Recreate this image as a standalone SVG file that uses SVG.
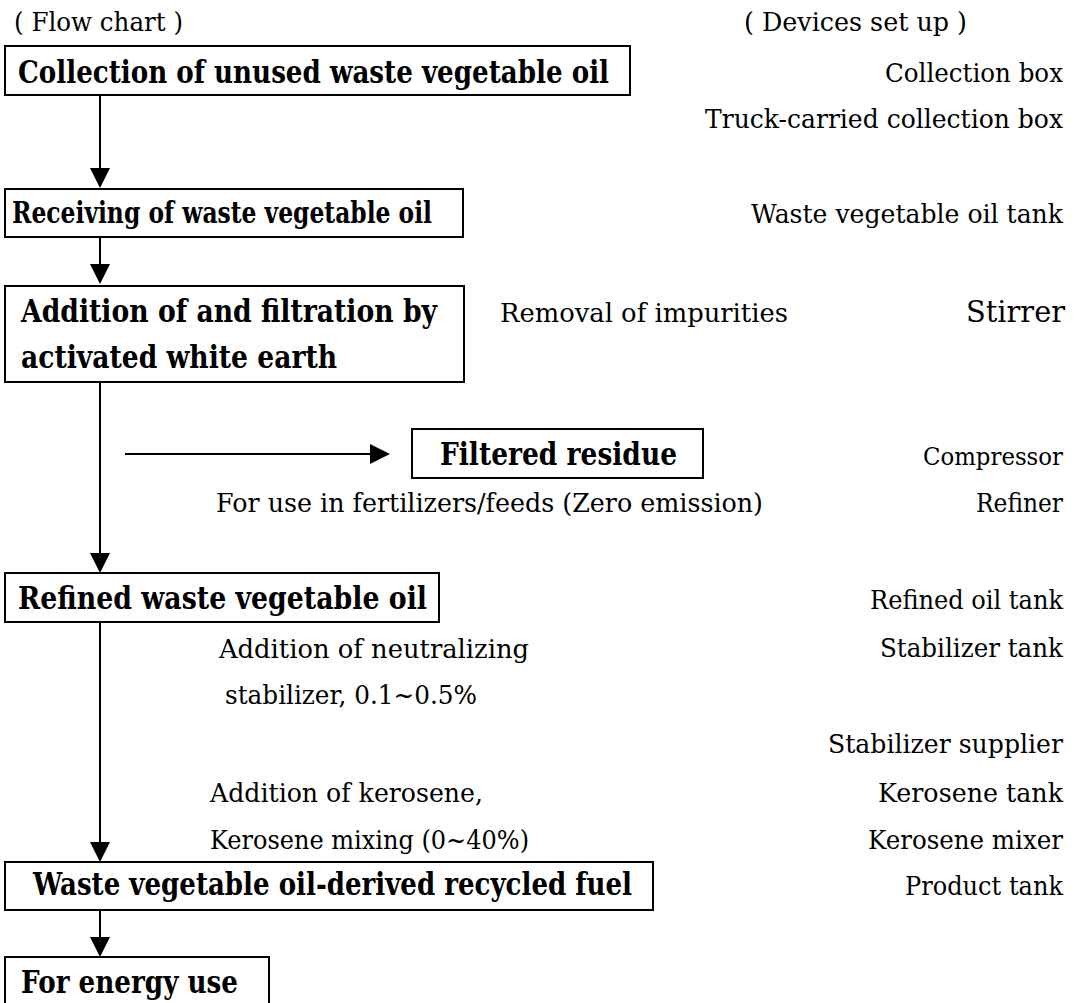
<svg xmlns="http://www.w3.org/2000/svg" width="1079" height="1003" viewBox="0 0 1079 1003">
<style>
.box{fill:#fff;stroke:#000;stroke-width:2}
.b{font-family:"DejaVu Serif","Liberation Serif",serif;font-weight:bold;font-size:31px;fill:#000}
.r{font-family:"DejaVu Serif","Liberation Serif",serif;font-size:26px;fill:#000}
.ln{stroke:#000;stroke-width:2;fill:none}
</style>
<defs>
<marker id="ah" markerWidth="20" markerHeight="20" refX="10" refY="10" orient="auto" markerUnits="userSpaceOnUse">
<path d="M0,0 L20,10 L0,20 z" fill="#000"/>
</marker>
</defs>
<rect width="1079" height="1003" fill="#fff"/>
<text class="r" x="14" y="31" textLength="169" lengthAdjust="spacingAndGlyphs">( Flow chart )</text>
<text class="r" x="744" y="31" textLength="223" lengthAdjust="spacingAndGlyphs">( Devices set up )</text>
<g id="connectors">
<line class="ln" x1="100" y1="96" x2="100" y2="178" marker-end="url(#ah)"/>
<line class="ln" x1="100" y1="237" x2="100" y2="274" marker-end="url(#ah)"/>
<line class="ln" x1="100" y1="382" x2="100" y2="563" marker-end="url(#ah)"/>
<line class="ln" x1="125" y1="454" x2="380" y2="454" marker-end="url(#ah)"/>
<line class="ln" x1="100" y1="622" x2="100" y2="852" marker-end="url(#ah)"/>
<line class="ln" x1="100" y1="910" x2="100" y2="947" marker-end="url(#ah)"/>
</g>
<g id="n1"><rect class="box" x="5" y="46" width="625" height="49"/><text class="b" x="18" y="83" textLength="591" lengthAdjust="spacingAndGlyphs">Collection of unused waste vegetable oil</text></g>
<g id="n2"><rect class="box" x="5" y="189" width="458" height="48"/><text class="b" x="12" y="223" style="font-size:29px" textLength="420" lengthAdjust="spacingAndGlyphs">Receiving of waste vegetable oil</text></g>
<g id="n3"><rect class="box" x="5" y="286" width="459" height="96"/><text class="b" x="21" y="322" textLength="416" lengthAdjust="spacingAndGlyphs">Addition of and filtration by</text><text class="b" x="21" y="368" textLength="316" lengthAdjust="spacingAndGlyphs">activated white earth</text></g>
<g id="n4"><rect class="box" x="412" y="429" width="291" height="49"/><text class="b" x="440" y="465" textLength="237" lengthAdjust="spacingAndGlyphs">Filtered residue</text></g>
<g id="n5"><rect class="box" x="5" y="573" width="434" height="49"/><text class="b" x="18" y="609" textLength="409" lengthAdjust="spacingAndGlyphs">Refined waste vegetable oil</text></g>
<g id="n6"><rect class="box" x="5" y="862" width="648" height="48"/><text class="b" x="33" y="895" textLength="599" lengthAdjust="spacingAndGlyphs">Waste vegetable oil-derived recycled fuel</text></g>
<g id="n7"><rect class="box" x="5" y="957" width="264" height="50"/><text class="b" x="21" y="993" textLength="217" lengthAdjust="spacingAndGlyphs">For energy use</text></g>
<g id="labels">
<text class="r" x="885" y="82" textLength="178" lengthAdjust="spacingAndGlyphs">Collection box</text>
<text class="r" x="705" y="128" textLength="358" lengthAdjust="spacingAndGlyphs">Truck-carried collection box</text>
<text class="r" x="751" y="223" textLength="312" lengthAdjust="spacingAndGlyphs">Waste vegetable oil tank</text>
<text class="r" x="500" y="322" textLength="288" lengthAdjust="spacingAndGlyphs">Removal of impurities</text>
<text class="r" x="966" y="322" style="font-size:29px" textLength="99" lengthAdjust="spacingAndGlyphs">Stirrer</text>
<text class="r" x="923" y="465" style="font-size:24px" textLength="140" lengthAdjust="spacingAndGlyphs">Compressor</text>
<text class="r" x="216" y="512" textLength="547" lengthAdjust="spacingAndGlyphs">For use in fertilizers/feeds (Zero emission)</text>
<text class="r" x="976" y="512" textLength="87" lengthAdjust="spacingAndGlyphs">Refiner</text>
<text class="r" x="870" y="609" textLength="193" lengthAdjust="spacingAndGlyphs">Refined oil tank</text>
<text class="r" x="219" y="658" textLength="310" lengthAdjust="spacingAndGlyphs">Addition of neutralizing</text>
<text class="r" x="880" y="657" textLength="183" lengthAdjust="spacingAndGlyphs">Stabilizer tank</text>
<text class="r" x="225" y="704" textLength="252" lengthAdjust="spacingAndGlyphs">stabilizer, 0.1~0.5%</text>
<text class="r" x="828" y="753" textLength="235" lengthAdjust="spacingAndGlyphs">Stabilizer supplier</text>
<text class="r" x="210" y="802" textLength="273" lengthAdjust="spacingAndGlyphs">Addition of kerosene,</text>
<text class="r" x="878" y="802" textLength="185" lengthAdjust="spacingAndGlyphs">Kerosene tank</text>
<text class="r" x="210" y="849" textLength="319" lengthAdjust="spacingAndGlyphs">Kerosene mixing (0~40%)</text>
<text class="r" x="868" y="849" textLength="195" lengthAdjust="spacingAndGlyphs">Kerosene mixer</text>
<text class="r" x="905" y="895" textLength="158" lengthAdjust="spacingAndGlyphs">Product tank</text>
</g>
</svg>
